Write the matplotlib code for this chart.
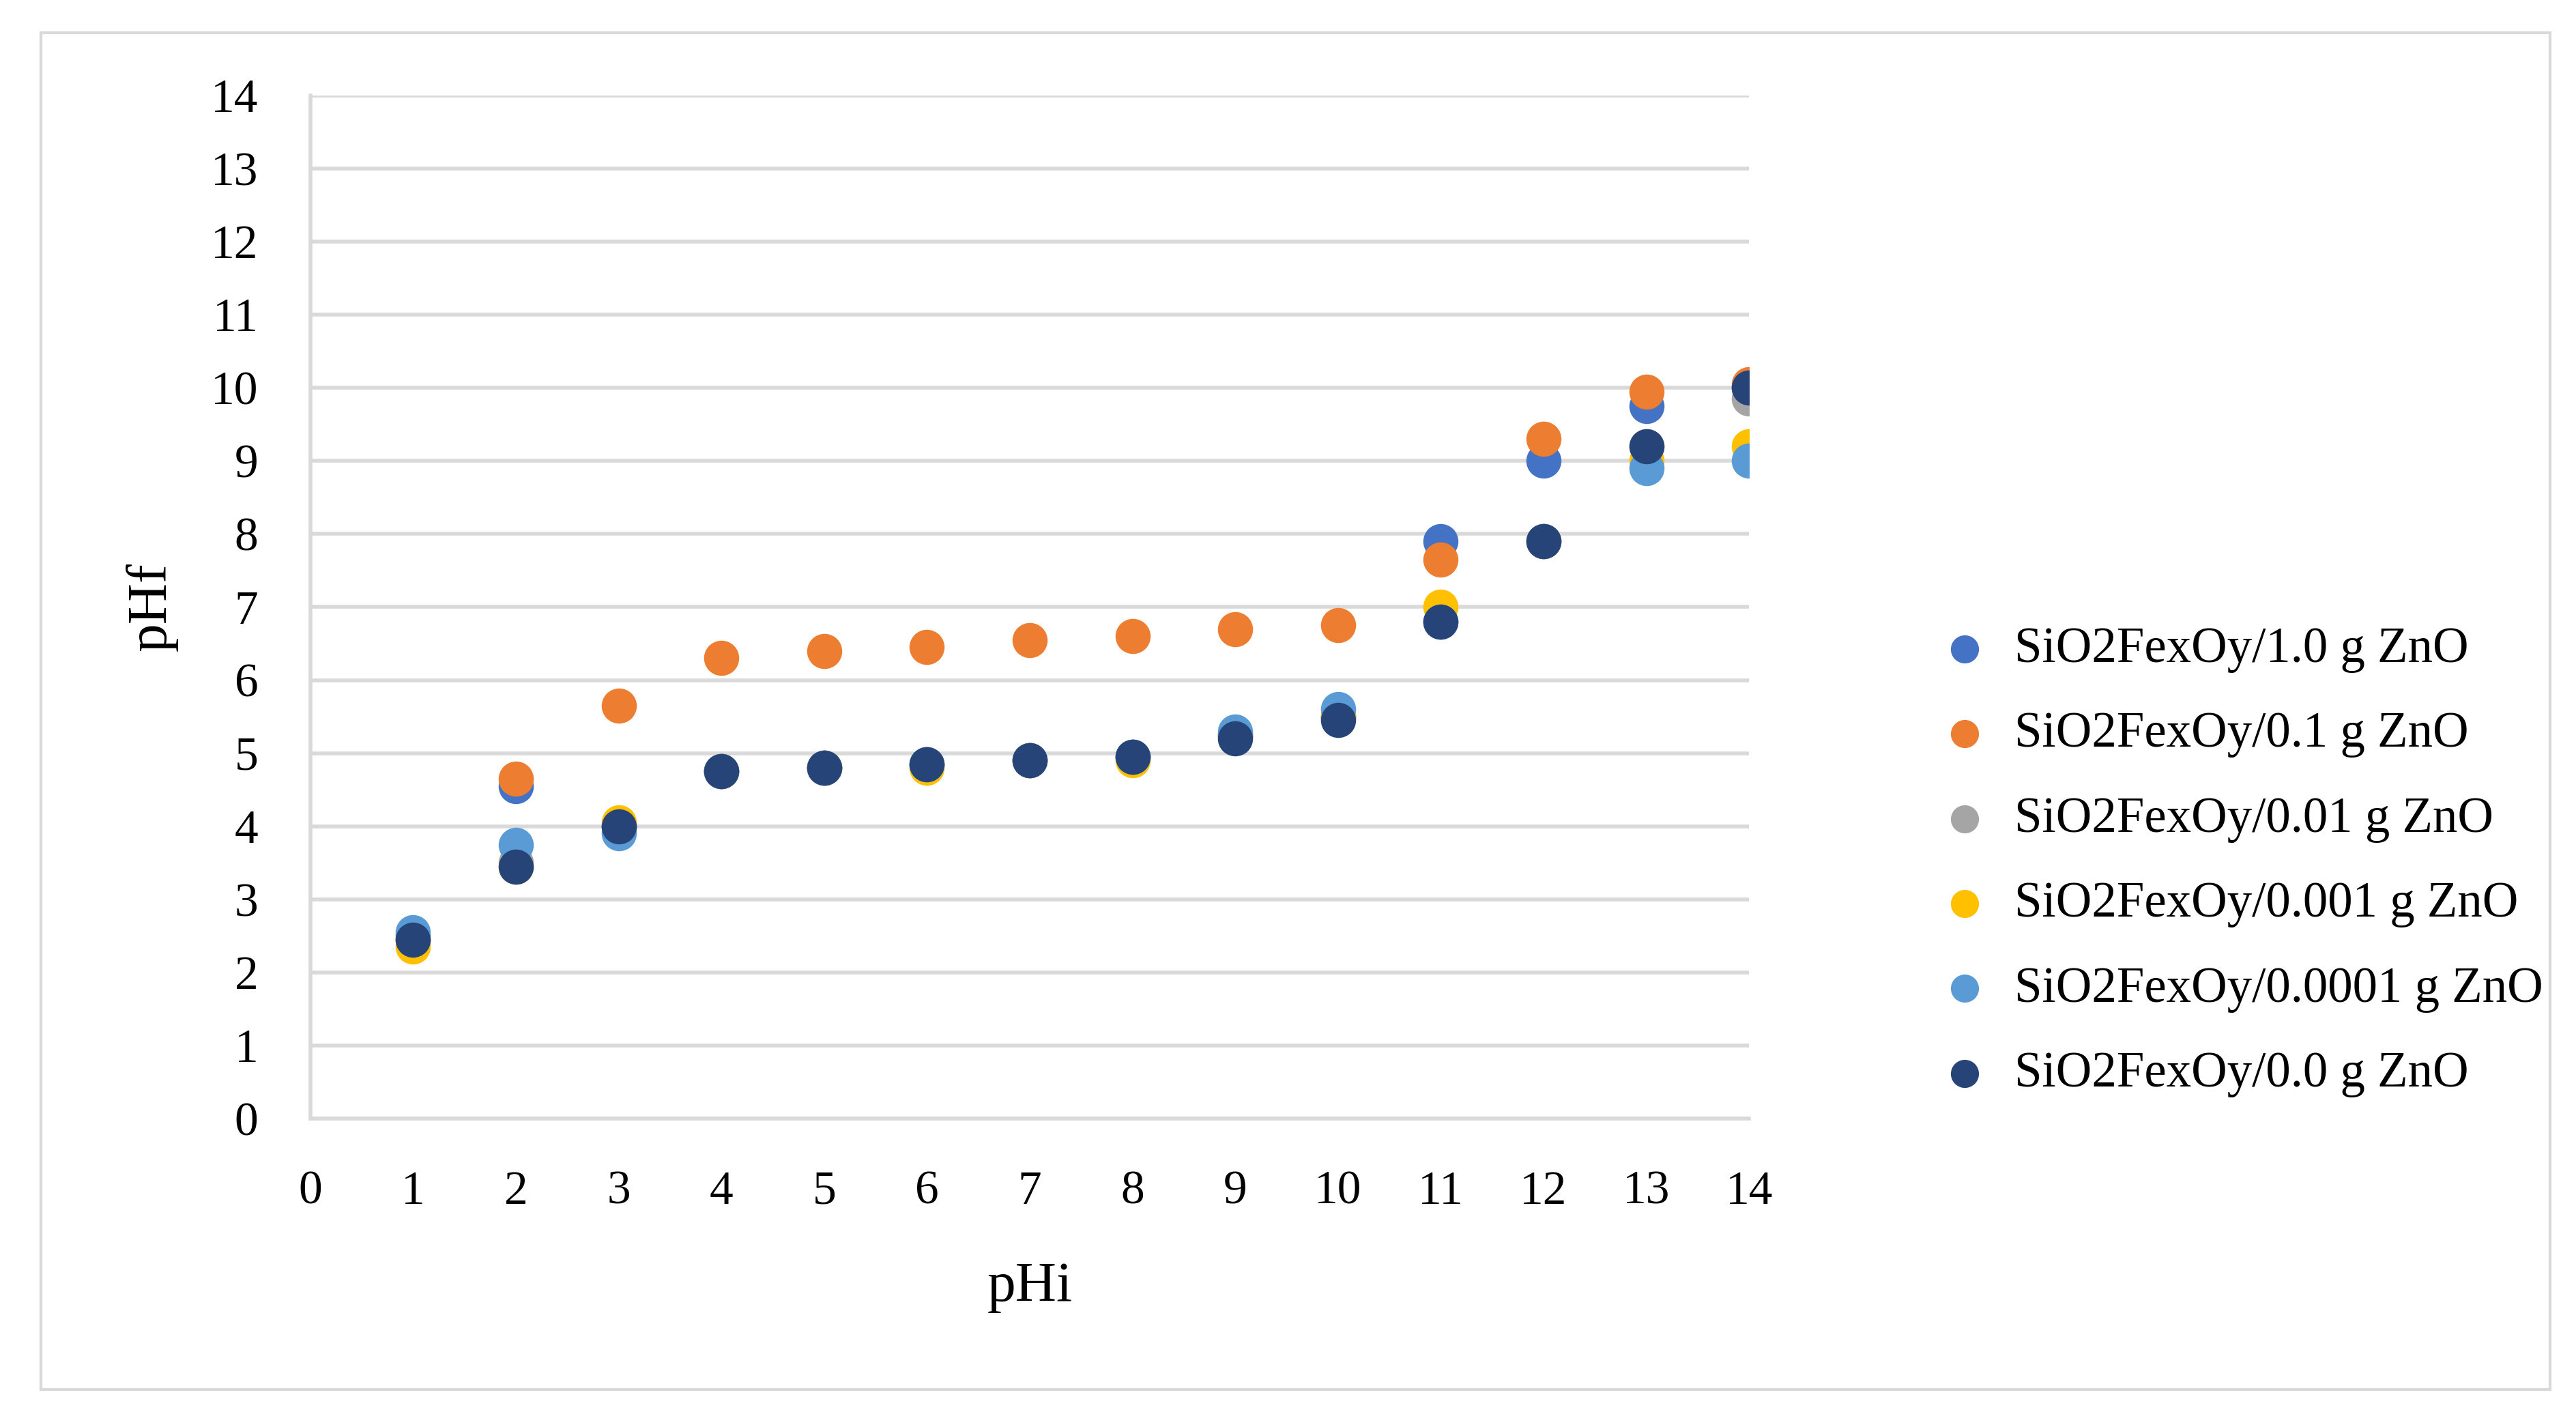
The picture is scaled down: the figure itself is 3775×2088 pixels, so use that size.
import matplotlib
matplotlib.use("Agg")
import matplotlib.pyplot as plt
from matplotlib.patches import Rectangle

ph_initial = list(range(1, 15))
labels = [
    "SiO2FexOy/1.0 g ZnO",
    "SiO2FexOy/0.1 g ZnO",
    "SiO2FexOy/0.01 g ZnO",
    "SiO2FexOy/0.001 g ZnO",
    "SiO2FexOy/0.0001 g ZnO",
    "SiO2FexOy/0.0 g ZnO",
]
colors = ["#4472C4", "#ED7D31", "#A5A5A5", "#FFC000", "#5B9BD5", "#264478"]

zno_1_0 = [2.5, 4.55, 4.0, 4.75, 4.8, 4.85, 4.9, 4.95, 5.25, 5.5, 7.9, 9.0, 9.75, 10.0]
zno_0_1 = [2.45, 4.65, 5.65, 6.3, 6.4, 6.45, 6.55, 6.6, 6.7, 6.75, 7.65, 9.3, 9.95, 10.05]
zno_0_01 = [2.45, 3.5, 4.0, 4.75, 4.8, 4.85, 4.9, 4.95, 5.25, 5.5, 6.8, 7.9, 9.2, 9.85]
zno_0_001 = [2.35, 3.45, 4.05, 4.75, 4.8, 4.8, 4.9, 4.9, 5.25, 5.5, 7.0, 7.9, 9.0, 9.2]
zno_0_0001 = [2.55, 3.75, 3.9, 4.75, 4.8, 4.85, 4.9, 4.95, 5.3, 5.6, 6.8, 7.9, 8.9, 9.0]
zno_0_0 = [2.45, 3.45, 4.0, 4.75, 4.8, 4.85, 4.9, 4.95, 5.2, 5.45, 6.8, 7.9, 9.2, 10.0]
series = [zno_1_0, zno_0_1, zno_0_01, zno_0_001, zno_0_0001, zno_0_0]

plt.rcParams["font.family"] = ["Liberation Serif", "DejaVu Serif"]

fig = plt.figure(figsize=(15.1, 8.352), dpi=250)
fig.patches.append(Rectangle((0.016, 0.025), 0.974, 0.952, transform=fig.transFigure,
                             fill=False, edgecolor="#D9D9D9", linewidth=1.2))
ax = fig.add_axes([0.1205, 0.215, 0.5585, 0.718])

for values, label, color in zip(series, labels, colors):
    ax.scatter(ph_initial, values, s=220, color=color, label=label, zorder=3, linewidths=0)

ax.set_xlim(0, 14)
ax.set_ylim(0, 14)
ax.set_xticks(range(0, 15))
ax.set_yticks(range(0, 15))
ax.tick_params(length=0, labelsize=20)
ax.tick_params(axis="x", pad=22)
ax.tick_params(axis="y", pad=22)
ax.grid(axis="y", color="#D9D9D9", linewidth=1.6, zorder=0)
ax.set_axisbelow(True)
for side in ["top", "right"]:
    ax.spines[side].set_visible(False)
for side in ["left", "bottom"]:
    ax.spines[side].set_color("#D9D9D9")
    ax.spines[side].set_linewidth(1.6)
ax.set_xlabel("pHi", fontsize=24, labelpad=20)
ax.set_ylabel("pHf", fontsize=24, labelpad=14)

fig.legend(loc="center left", bbox_to_anchor=(0.726, 0.395), frameon=False, fontsize=21,
           handletextpad=0.0, labelspacing=0.78, markerscale=0.8)

fig.savefig("out.png", dpi=250)
